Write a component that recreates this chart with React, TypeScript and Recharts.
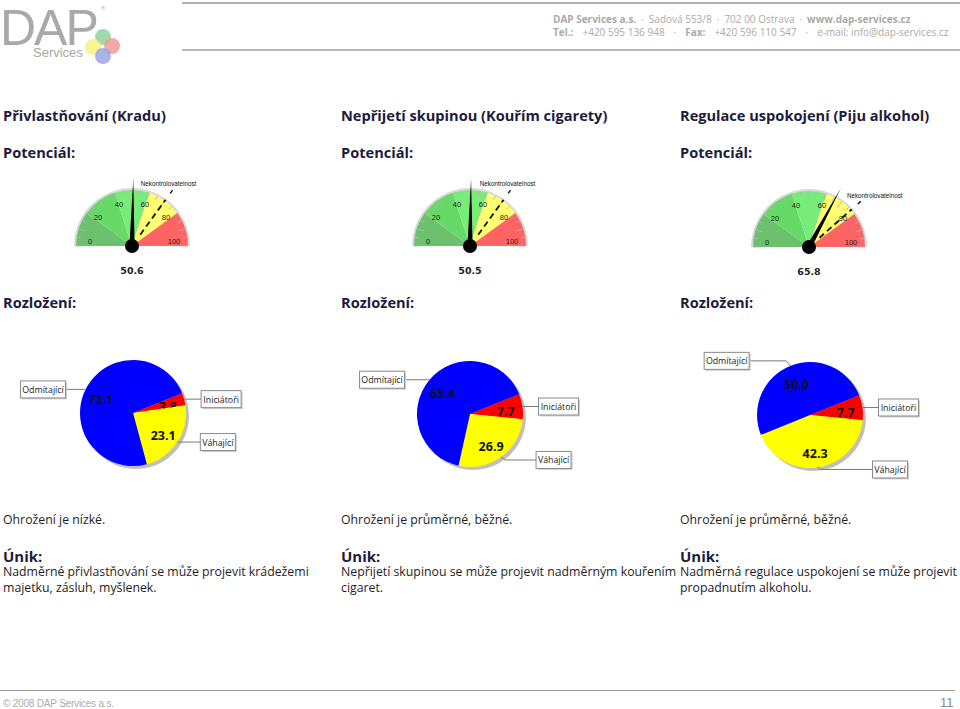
import React from "react"
import { PieChart, Pie, Cell } from "recharts"

// --- data ---
const segmentNames = ["Iniciátoři", "Váhající", "Odmítající"]
const segmentColors = ["#ff0000", "#ffff00", "#0000ff"]
const theftShares = [3.8, 23.1, 73.1]
const smokingShares = [7.7, 26.9, 65.4]
const drinkingShares = [7.7, 42.3, 50.0]

const gaugeValues = [50.6, 50.5, 65.8]
const gaugeLimits = [70, 70, 77]
const limitName = "Nekontrolovatelnost"
const scaleLabels = [0, 20, 40, 60, 80, 100]
const bandNames = ["0-20", "20-40", "40-60", "60-80", "80-100"]
const bandSpans = [20, 20, 20, 20, 20]

const titles = [
  "Přivlastňování (Kradu)",
  "Nepřijetí skupinou (Kouřím cigarety)",
  "Regulace uspokojení (Piju alkohol)",
]
const threatTexts = ["Ohrožení je nízké.", "Ohrožení je průměrné, běžné.", "Ohrožení je průměrné, běžné."]
const leakTexts = [
  ["Nadměrné přivlastňování se může projevit krádežemi", "majetku, zásluh, myšlenek."],
  ["Nepřijetí skupinou se může projevit nadměrným kouřením", "cigaret."],
  ["Nadměrná regulace uspokojení se může projevit", "propadnutím alkoholu."],
]
const allShares = [theftShares, smokingShares, drinkingShares]

// --- layout ---
const bandColors = ["#6cc26c", "#66d966", "#78ec78", "#ffff70", "#ff6464"]
const colX = [3, 341, 680]
const gaugeCenters = [[132, 246], [470, 246], [809, 247]]
const limitLabelShift = [-4, -3, 14]
const pieCenters = [[133, 413], [470, 414], [810, 415]]
const labelOffsets = [
  [{ dx: 17, dy: 0 }, { dx: 23, dy: 0 }, { dx: -20, dy: 0 }],
  [{ dx: 16, dy: 0 }, { dx: 35, dy: 3 }, { dx: -25, dy: 0 }],
  [{ dx: 16, dy: 0 }, { dx: 55, dy: 2 }, { dx: -41, dy: -5 }],
]
const boxWidths = [40, 35, 45]
const navy = "#1c1c3c"
const bodyFont = "'Open Sans', sans-serif"
const noMargin = { top: 0, right: 0, bottom: 0, left: 0 }

const G_W = 240, G_H = 120, G_CX = 110, G_CY = 80, G_R = 56
const P_W = 300, P_H = 160, P_CX = 150, P_CY = 80, P_R = 53
const START = 22

const GaugeDecor = ({ cx, cy, value, limit, shift }: { cx: number; cy: number; value: number; limit: number; shift: number }) => {
  const pt = (v: number, r: number) => {
    const a = Math.PI * (1 - v / 100)
    return [cx + r * Math.cos(a), cy - r * Math.sin(a)]
  }
  const ticks = Array.from({ length: 21 }, (_, i) => i * 5)
  const a = Math.PI * (1 - value / 100)
  const px = -Math.sin(a) * 2.6, py = -Math.cos(a) * 2.6
  const [tx, ty] = pt(value, 67)
  const [l0x, l0y] = pt(limit, 14)
  const [l1x, l1y] = pt(limit, 57)
  const [l2x, l2y] = pt(limit, 65)
  const [l3x, l3y] = pt(limit, 69)
  return (
    <g>
      {ticks.map((t) => {
        const [x0, y0] = pt(t, t % 10 === 0 ? 49 : 52)
        const [x1, y1] = pt(t, 56)
        return <line key={t} x1={x0} y1={y0} x2={x1} y2={y1} stroke="#b5b5b5" strokeWidth={1} />
      })}
      {scaleLabels.map((t) => {
        const [x, y] = pt(t, 42)
        const c = Math.cos(Math.PI * (1 - t / 100))
        return (
          <text key={t} x={x} y={y - 5 * Math.abs(c)} textAnchor="middle" dominantBaseline="central"
            fontSize={7.5} fontFamily="'Liberation Sans', Arial" fill="#222">{t}</text>
        )
      })}
      <line x1={l0x} y1={l0y} x2={l1x} y2={l1y} stroke="#111" strokeWidth={1.8} strokeDasharray="6 4" />
      <line x1={l2x} y1={l2y} x2={l3x} y2={l3y} stroke="#111" strokeWidth={1.4} />
      <text x={l3x + shift} y={l3y - 3.7} textAnchor="middle" fontSize={6.3} fontFamily="'Liberation Sans', Arial" fill="#111">{limitName}</text>
      <polygon points={`${cx + px},${cy + py} ${tx},${ty} ${cx - px},${cy - py}`} fill="#000" />
      <circle cx={cx} cy={cy} r={7} fill="#000" />
      <text x={cx} y={cy + 28} textAnchor="middle" fontSize={9.5} fontWeight="bold" fontFamily="'DejaVu Sans'" fill="#222">
        {value.toFixed(1)}
      </text>
    </g>
  )
}

const Gauge = ({ idx }: { idx: number }) => {
  const bands = bandNames.map((name, i) => ({ name, value: bandSpans[i] }))
  const v = gaugeValues[idx]
  const needle = [{ name: "value", value: v }, { name: "rest", value: 100 - v }]
  const [gx, gy] = gaugeCenters[idx]
  return (
    <div style={{ position: "absolute", left: gx - G_CX, top: gy - G_CY }}>
      <PieChart width={G_W} height={G_H} margin={noMargin}>
        <Pie data={[{ name: "rim", value: 1 }]} dataKey="value" cx={G_CX} cy={G_CY} innerRadius={G_R - 1} outerRadius={G_R + 2}
          startAngle={180} endAngle={0} fill="#d9d9d9" stroke="none" isAnimationActive={false} />
        <Pie data={bands} dataKey="value" cx={G_CX} cy={G_CY} outerRadius={G_R} startAngle={180} endAngle={0}
          stroke="none" isAnimationActive={false}>
          {bands.map((b, i) => <Cell key={b.name} fill={bandColors[i]} />)}
        </Pie>
        <Pie data={needle} dataKey="value" cx={G_CX} cy={G_CY} outerRadius={G_R} startAngle={180} endAngle={0}
          fill="none" stroke="none" isAnimationActive={false} labelLine={false}
          label={(p: any) => p.index === 0
            ? <GaugeDecor cx={p.cx} cy={p.cy} value={v} limit={gaugeLimits[idx]} shift={limitLabelShift[idx]} />
            : <g />} />
      </PieChart>
    </div>
  )
}

const makeLabel = (idx: number) => (props: any) => {
  const { cx, cy, midAngle, outerRadius, index, value, percent } = props
  const offsets = labelOffsets[idx]
  const rad = (-midAngle * Math.PI) / 180
  const ix = cx + outerRadius * 0.68 * Math.cos(rad)
  const iy = cy + outerRadius * 0.68 * Math.sin(rad) + 3
  const ex = cx + outerRadius * Math.cos(rad)
  const ey = cy + outerRadius * Math.sin(rad)
  const off = offsets[index]
  const by = ey + off.dy
  const bx = ex + off.dx
  const w = boxWidths[index]
  const boxX = off.dx > 0 ? bx : bx - w
  const bend = ex + Math.sign(off.dx) * Math.min(4, Math.abs(off.dy) + 1)
  // the first slice's value is hidden where the next slice is drawn over it
  const clipId = `first-slice-${idx}`
  let clip = null
  if (index === 0) {
    const b = midAngle - percent * 180
    const d = (deg: number) => {
      const r = (-deg * Math.PI) / 180
      return `${cx + 300 * Math.cos(r)},${cy + 300 * Math.sin(r)}`
    }
    clip = (
      <clipPath id={clipId}>
        <polygon points={`${d(b)} ${d(b + 90)} ${d(b + 180)}`} />
      </clipPath>
    )
  }
  return (
    <g>
      {clip}
      <polyline points={`${ex},${ey} ${bend},${by} ${bx},${by}`} stroke="#7a7a7a" strokeWidth={1} fill="none" />
      <rect x={boxX + 1.5} y={by - 8.5 + 1.5} width={w} height={17} fill="#cfcfcf" />
      <rect x={boxX} y={by - 8.5} width={w} height={17} fill="#fff" stroke="#8a8a8a" strokeWidth={1} />
      <text x={boxX + w / 2} y={by + 0.5} textAnchor="middle" dominantBaseline="central" fontSize={8.8}
        fontFamily={bodyFont} fill="#222">{segmentNames[index]}</text>
      <text x={ix} y={iy} textAnchor="middle" dominantBaseline="central" fontSize={12.5} fontWeight="bold"
        fontFamily={bodyFont} fill="#111" clipPath={index === 0 ? `url(#${clipId})` : undefined}>
        {Number(value).toFixed(1)}
      </text>
    </g>
  )
}

const Distribution = ({ idx }: { idx: number }) => {
  const data = segmentNames.map((name, i) => ({ name, value: allShares[idx][i] }))
  const [pcx, pcy] = pieCenters[idx]
  return (
    <div style={{ position: "absolute", left: pcx - P_CX, top: pcy - P_CY }}>
      <PieChart width={P_W} height={P_H} margin={noMargin}>
        <Pie data={[{ name: "shadow", value: 1 }]} dataKey="value" cx={P_CX + 3} cy={P_CY + 3} outerRadius={P_R}
          fill="#c2bfb8" stroke="none" isAnimationActive={false} />
        <Pie data={data} dataKey="value" cx={P_CX} cy={P_CY} outerRadius={P_R} startAngle={START} endAngle={START - 360}
          stroke="none" isAnimationActive={false} labelLine={false} label={makeLabel(idx)}>
          {data.map((d, i) => <Cell key={d.name} fill={segmentColors[i]} />)}
        </Pie>
      </PieChart>
    </div>
  )
}

const Txt = ({ x, base, size, bold, color, children }: any) => (
  <div style={{
    position: "absolute", left: x, top: base - 0.888 * size, fontSize: size, lineHeight: `${size}px`,
    fontFamily: bodyFont, fontWeight: bold ? 700 : 400, color: color || "#1e1e1e", whiteSpace: "nowrap",
  }}>{children}</div>
)

const Logo = () => (
  <svg width={180} height={70} style={{ position: "absolute", left: 0, top: 0 }}>
    <text x={0} y={45} fontSize={50} fontFamily="'Liberation Sans', Arial" letterSpacing={-2} fill="#a9a9a9">DAP</text>
    <text x={101} y={10} fontSize={6} fontFamily="'Liberation Sans', Arial" fill="#aaa">®</text>
    <text x={33} y={57} fontSize={13} fontFamily="'Liberation Sans', Arial" fill="#a5a5a5">Services</text>
    <circle cx={103} cy={37} r={8} fill="#8fd49b" opacity={0.85} />
    <circle cx={112} cy={46} r={8} fill="#f29a9a" opacity={0.85} />
    <circle cx={93} cy={47} r={8} fill="#f6f27e" opacity={0.85} />
    <circle cx={103} cy={56} r={8} fill="#9ea3e3" opacity={0.85} />
  </svg>
)

const sep = <span style={{ margin: "0 5px" }}>·</span>
const wideSep = <span style={{ margin: "0 9px" }}>·</span>

export default function App() {
  return (
    <div style={{ position: "absolute", left: 0, top: 0, width: 960, height: 709, background: "#fff", overflow: "hidden" }}>
      <Logo />
      <div style={{ position: "absolute", left: 182, top: 2, width: 778, height: 2, background: "#b0b0b0" }} />
      <div style={{ position: "absolute", left: 182, top: 49, width: 778, height: 2, background: "#b8b8b8" }} />
      <div style={{ position: "absolute", left: 553, top: 13, fontSize: 10, lineHeight: "12.5px", fontFamily: bodyFont, color: "#aaa", whiteSpace: "nowrap" }}>
        <div><b>DAP Services a.s.</b>{sep}Sadová 553/8{sep}702 00 Ostrava{sep}<b>www.dap-services.cz</b></div>
        <div><b>Tel.:</b><span style={{ marginLeft: 9 }}>+420 595 136 948</span>{wideSep}<b>Fax:</b><span style={{ marginLeft: 9 }}>+420 596 110 547</span>{wideSep}e-mail: info@dap-services.cz</div>
      </div>

      {colX.map((x, i) => (
        <React.Fragment key={i}>
          <Txt x={x} base={121} size={14.6} bold color={navy}>{titles[i]}</Txt>
          <Txt x={x} base={158} size={14.6} bold color={navy}>Potenciál:</Txt>
          <Txt x={x} base={308} size={14.6} bold color={navy}>Rozložení:</Txt>
          <Txt x={x} base={525} size={12.3}>{threatTexts[i]}</Txt>
          <Txt x={x} base={562} size={15} bold color={navy}>Únik:</Txt>
          <Txt x={x} base={577} size={12.3}>{leakTexts[i][0]}</Txt>
          <Txt x={x} base={593} size={12.3}>{leakTexts[i][1]}</Txt>
          <Gauge idx={i} />
          <Distribution idx={i} />
        </React.Fragment>
      ))}

      <div style={{ position: "absolute", left: 0, top: 690, width: 955, height: 1, background: "#9a9a9a" }} />
      <div style={{ position: "absolute", left: 3, top: 697, fontSize: 10, lineHeight: "13px", letterSpacing: -0.2, fontFamily: "'Liberation Sans Narrow', 'Liberation Sans', Arial", color: "#aaa" }}>
        © 2008 DAP Services a.s.
      </div>
      <div style={{ position: "absolute", left: 940, top: 695, fontSize: 13, lineHeight: "16px", fontFamily: "'Liberation Sans Narrow', 'Liberation Sans', Arial", color: "#888" }}>
        11
      </div>
    </div>
  )
}
